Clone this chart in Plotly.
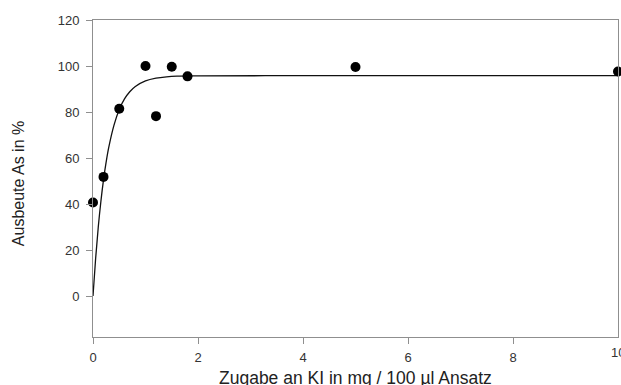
import plotly.graph_objects as go

# Measured points
ki_mg = [0, 0.2, 0.5, 1.0, 1.2, 1.5, 1.8, 5.0, 10.0]
ausbeute = [40.7, 51.8, 81.4, 100.0, 78.2, 99.7, 95.5, 99.6, 97.6]

# Fitted curve
fit_x = [0, 0.05, 0.1, 0.15, 0.2, 0.25, 0.3, 0.4, 0.5, 0.6, 0.7, 0.8, 1.0, 1.2, 1.4, 1.6, 2.0, 4.0, 6.0, 8.0, 10.0]
fit_y = [0, 16.3, 29.9, 41.1, 50.5, 58.2, 64.6, 74.3, 81.1, 85.7, 88.8, 91.0, 93.5, 94.7, 95.3, 95.6, 95.7, 95.8, 95.8, 95.8, 95.8]

x_ticks = [0, 2, 4, 6, 8, 10]
y_ticks = [0, 20, 40, 60, 80, 100, 120]

x_title = "Zugabe an KI in mg / 100 µl Ansatz"
y_title = "Ausbeute As in %"

font_family = "Liberation Sans, Arial, sans-serif"

fig = go.Figure()
fig.add_trace(go.Scatter(x=fit_x, y=fit_y, mode="lines",
                         line=dict(color="#111111", width=1.3, shape="spline"),
                         hoverinfo="skip", showlegend=False))
fig.add_trace(go.Scatter(x=ki_mg, y=ausbeute, mode="markers",
                         marker=dict(color="black", size=10, symbol="circle"),
                         showlegend=False, cliponaxis=False))

axis_common = dict(showgrid=False, zeroline=False, showline=True, linecolor="#8f8f8f",
                   linewidth=1, mirror=True, ticks="outside", ticklen=6, tickcolor="#8f8f8f",
                   automargin=False,
                   tickfont=dict(size=13, color="#333333", family=font_family))

# last x tick label (cut by the right page edge, as in the original)
last_tick = x_ticks[-1]

fig.update_layout(
    width=621, height=385,
    margin=dict(l=93, r=3, t=20, b=48),
    paper_bgcolor="white", plot_bgcolor="white",
    font=dict(family=font_family, color="#222222"),
    xaxis=dict(range=[0, 10], tickvals=x_ticks[:-1], ticktext=[str(v) for v in x_ticks[:-1]],
               ticklabelstandoff=2, **axis_common),
    yaxis=dict(range=[-17.8, 120], tickvals=y_ticks, ticktext=[str(v) for v in y_ticks],
               ticklabelstandoff=4, **axis_common),
    annotations=[
        dict(text=str(last_tick), xref="x", yref="paper", x=last_tick, y=-0.05,
             xanchor="center", yanchor="middle", showarrow=False,
             font=dict(size=13, color="#333333", family=font_family)),
        dict(text=x_title, xref="paper", yref="paper", x=0.5, y=-0.0917,
             xanchor="center", yanchor="top", showarrow=False,
             font=dict(size=17.5, color="#222222", family=font_family)),
        dict(text=y_title, xref="paper", yref="paper", x=-0.143, y=0.485,
             xanchor="center", yanchor="middle", showarrow=False, textangle=-90,
             font=dict(size=16, color="#222222", family=font_family)),
    ],
)

fig.write_html("out.html", config={"displayModeBar": False},
               post_script="document.body.style.margin='0';document.body.style.overflow='hidden';")
